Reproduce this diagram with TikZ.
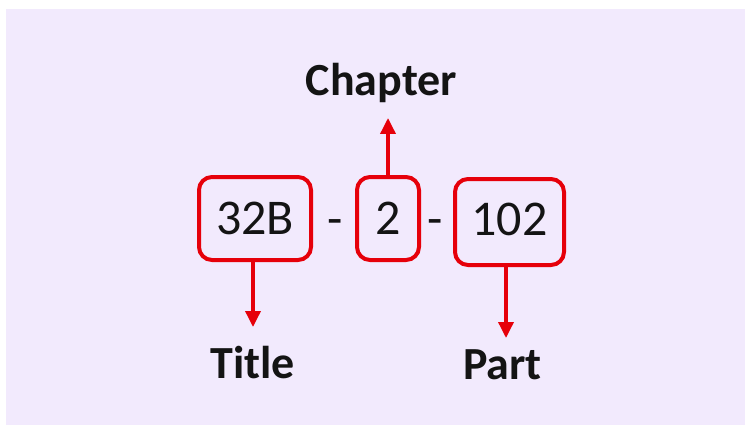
\documentclass[tikz,border=0pt]{standalone}
\usepackage{fontspec}
\setmainfont{Carlito}
\usetikzlibrary{arrows.meta}
\definecolor{bg}{RGB}{242,234,253}
\definecolor{boxred}{RGB}{230,0,10}
\definecolor{ink}{RGB}{20,20,20}
\begin{document}
\begin{tikzpicture}[x=1pt,y=-1pt,
  numbox/.style={draw=boxred,line width=4pt,rounded corners=13pt,inner sep=0pt,text=ink,
    font=\fontsize{50}{60}\selectfont,text height=32pt,text depth=0pt},
  dashlbl/.style={inner sep=0pt,text=ink,font=\fontsize{50}{60}\selectfont,anchor=base},
  lbl/.style={inner sep=0pt,text=ink,font=\fontsize{46}{55}\selectfont\bfseries,anchor=base},
  arr/.style={draw=boxred,line width=3.5pt,-{Triangle[width=15pt,length=16pt]}}]
\useasboundingbox (0,0) rectangle (747,425);
\fill[white] (0,0) rectangle (747,425);
\fill[bg] (6,9) rectangle (745,425);
\node[numbox,minimum width=112pt,minimum height=83pt] (b1) at (255,218.5) {32B};
\node[numbox,minimum width=62pt,minimum height=83pt] (b2) at (388,218.5) {2};
\node[numbox,minimum width=109pt,minimum height=86pt,text depth=6pt] (b3) at (509.5,222) {102};
\node[dashlbl] (d1) at (335,235) {-};
\node[dashlbl] (d2) at (435,235) {-};
\node[lbl] (chap) at (381.5,96) {Chapter};
\node[lbl] (title) at (252.5,378) {Title};
\node[lbl] (part) at (502.5,379) {Part};
\coordinate (chtip) at (388,118);
\coordinate (ttip) at (253,327);
\coordinate (ptip) at (506,338);
\draw[arr] (b2.north) -- (chtip);
\draw[arr] (b1.south -| ttip) -- (ttip);
\draw[arr] (b3.south -| ptip) -- (ptip);
\end{tikzpicture}
\end{document}
